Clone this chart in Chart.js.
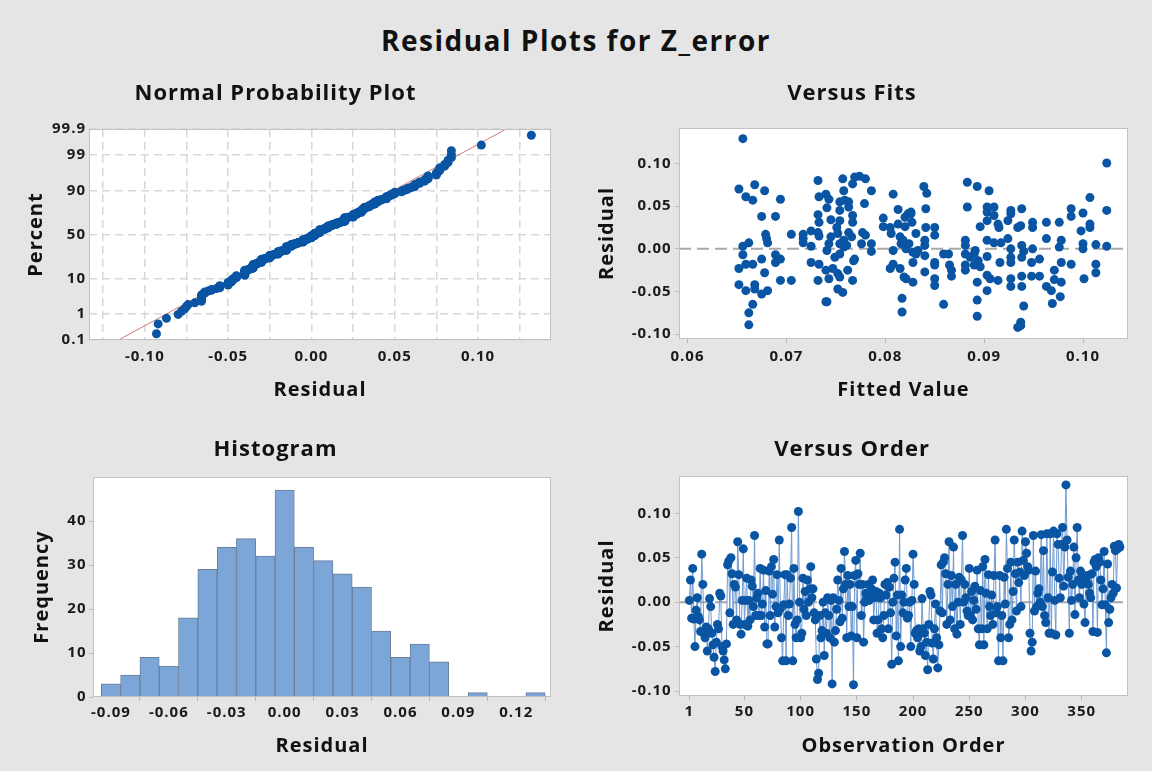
<!DOCTYPE html>
<html>
<head>
<meta charset="utf-8">
<script src="https://cdn.jsdelivr.net/npm/chart.js@4.4.1/dist/chart.umd.min.js"></script>
<style>
  html, body { margin: 0; padding: 0; }
  body { width: 1152px; height: 771px; background: #e5e5e5; position: relative; overflow: hidden; font-family: 'Open Sans', sans-serif; }
  #title { position: absolute; left: 0; top: 20px; width: 1152px; text-align: center; font-size: 28px; line-height: 40px; font-weight: 700; letter-spacing: 1.5px; color: #111; }
  .panel { position: absolute; width: 576px; height: 350px; }
</style>
</head>
<body>
<div id="title">Residual Plots for Z_error</div>
<div class="panel" style="left:0;top:60px"><canvas id="normal" width="576" height="350"></canvas></div>
<div class="panel" style="left:576px;top:60px"><canvas id="fits" width="576" height="350"></canvas></div>
<div class="panel" style="left:0;top:415px"><canvas id="hist" width="576" height="350"></canvas></div>
<div class="panel" style="left:576px;top:415px"><canvas id="order" width="576" height="350"></canvas></div>
<script>
// Residuals in observation order (1..384)
const residuals = [
  0.002, 0.025, -0.018, 0.038, -0.019, -0.050, -0.009, 0.005, -0.016, -0.020, -0.033, 0.054, 0.020, -0.035, -0.040, -0.028,
  -0.055, -0.030, 0.004, -0.005, -0.035, -0.048, -0.062, -0.078, -0.045, -0.025, -0.030, 0.010, 0.007, -0.050, -0.055, -0.065,
  -0.075, -0.047, 0.042, 0.046, -0.012, 0.050, 0.032, -0.025, 0.020, 0.017, -0.020, 0.068, 0.031, -0.025, -0.036, 0.002,
  0.060, -0.025, 0.002, 0.027, -0.027, 0.002, -0.020, 0.025, 0.018, -0.005, 0.075, -0.015, 0.005, 0.010, -0.015, 0.038,
  -0.015, -0.002, 0.036, -0.028, 0.013, -0.047, -0.047, 0.035, -0.015, 0.040, 0.009, 0.048, -0.028, -0.005, 0.031, -0.012,
  0.070, -0.007, -0.040, -0.066, -0.003, 0.031, -0.066, 0.031, -0.015, -0.002, 0.027, 0.084, -0.066, 0.038, -0.025, -0.040,
  -0.020, 0.102, 0.000, -0.040, -0.035, 0.027, -0.008, 0.012, -0.015, 0.025, 0.000, 0.015, 0.040, 0.005, 0.015, -0.012,
  -0.020, -0.064, -0.087, -0.080, -0.015, -0.040, -0.032, 0.000, -0.060, -0.012, -0.035, 0.005, -0.015, -0.040, 0.002, -0.092,
  0.005, -0.045, -0.032, -0.008, 0.025, 0.002, -0.022, 0.038, -0.018, 0.015, 0.057, 0.020, -0.040, 0.030, -0.005, 0.020,
  -0.038, -0.005, -0.093, 0.030, 0.047, -0.040, 0.032, 0.020, 0.055, -0.015, 0.020, -0.045, 0.000, 0.010, 0.005, 0.020,
  0.002, 0.010, 0.015, 0.025, -0.020, 0.005, 0.012, -0.035, -0.020, 0.010, 0.005, -0.030, -0.040, -0.015, 0.020, 0.008,
  0.022, -0.030, 0.017, -0.012, -0.070, 0.000, 0.027, 0.045, -0.038, 0.008, -0.066, 0.082, -0.050, 0.008, -0.012, 0.000,
  0.025, 0.038, -0.018, -0.015, 0.000, -0.050, 0.002, 0.054, 0.020, -0.035, -0.032, -0.040, -0.030, -0.055, -0.050, 0.004,
  -0.030, -0.035, -0.060, -0.045, -0.076, -0.025, 0.012, 0.008, -0.046, -0.064, -0.030, -0.002, -0.040, -0.074, -0.048, -0.010,
  0.042, -0.012, 0.045, 0.050, 0.032, -0.025, 0.020, 0.068, -0.020, 0.030, -0.005, 0.062, -0.030, 0.020, -0.036, 0.000,
  0.028, -0.025, 0.025, 0.075, 0.000, 0.020, 0.005, -0.010, -0.015, 0.038, -0.015, 0.012, -0.020, 0.002, 0.018, -0.008,
  0.036, -0.030, -0.048, 0.013, -0.030, 0.040, -0.048, 0.048, 0.010, -0.030, 0.031, -0.005, -0.015, 0.008, -0.025, 0.030,
  0.070, -0.012, -0.005, -0.066, 0.030, -0.040, -0.015, -0.066, 0.028, -0.002, 0.082, 0.038, -0.040, -0.025, 0.045, -0.020,
  0.012, 0.070, 0.032, -0.010, 0.045, 0.022, 0.034, -0.005, 0.080, 0.047, 0.030, 0.068, 0.055, 0.040, 0.036, -0.035,
  -0.055, -0.045, 0.075, -0.010, 0.035, -0.005, 0.010, 0.015, 0.000, 0.076, -0.005, 0.058, -0.015, -0.023, 0.077, 0.005,
  -0.035, 0.077, -0.035, 0.034, 0.080, 0.002, -0.037, 0.077, 0.065, 0.027, 0.005, 0.065, 0.084, 0.018, 0.062, 0.132,
  0.070, 0.028, -0.035, 0.035, 0.002, 0.020, 0.062, -0.014, 0.050, 0.084, 0.025, 0.005, 0.035, 0.020, 0.030, -0.002,
  -0.023, 0.025, 0.030, 0.020, 0.010, 0.005, 0.032, -0.033, 0.045, 0.048, 0.040, -0.034, 0.050, 0.045, 0.025, -0.003,
  0.015, 0.057, -0.003, -0.057, 0.043, -0.023, -0.008, 0.005, 0.020, 0.010, 0.063, 0.058, 0.016, 0.060, 0.065, 0.062
];

// Versus Fits: fitted value / residual pairs as seen in the scatter
const fitValues = [
  0.0656, 0.0652, 0.0659, 0.0666, 0.0668, 0.0662, 0.0656, 0.0656, 0.0652, 0.0659, 0.0666, 0.0652, 0.0659, 0.0668, 0.0668, 0.0666,
  0.0662, 0.0662, 0.0675, 0.0678, 0.0679, 0.0680, 0.0681, 0.0675, 0.0678, 0.0675, 0.0681, 0.0689, 0.0689, 0.0689, 0.0694, 0.0694,
  0.0694, 0.0705, 0.0705, 0.0717, 0.0717, 0.0717, 0.0725, 0.0725, 0.0725, 0.0732, 0.0733, 0.0732, 0.0733, 0.0732, 0.0733, 0.0732,
  0.0733, 0.0740, 0.0743, 0.0741, 0.0740, 0.0740, 0.0741, 0.0743, 0.0743, 0.0741, 0.0745, 0.0745, 0.0747, 0.0749, 0.0751, 0.0752,
  0.0752, 0.0754, 0.0754, 0.0754, 0.0754, 0.0754, 0.0752, 0.0757, 0.0754, 0.0757, 0.0758, 0.0759, 0.0758, 0.0758, 0.0761, 0.0762,
  0.0763, 0.0763, 0.0763, 0.0766, 0.0767, 0.0769, 0.0767, 0.0767, 0.0768, 0.0767, 0.0769, 0.0774, 0.0780, 0.0776, 0.0777, 0.0779,
  0.0780, 0.0786, 0.0786, 0.0786,
  0.0798, 0.0798, 0.0805, 0.0806, 0.0808, 0.0805, 0.0808, 0.0808, 0.0813, 0.0813, 0.0815, 0.0815, 0.0816, 0.0817, 0.0817, 0.0818,
  0.0819, 0.0820, 0.0820, 0.0821, 0.0821, 0.0823, 0.0824, 0.0826, 0.0826, 0.0827, 0.0828, 0.0828, 0.0828, 0.0831, 0.0831, 0.0833,
  0.0839, 0.0842, 0.0841, 0.0841, 0.0840, 0.0840, 0.0840, 0.0840, 0.0850, 0.0850, 0.0850, 0.0850, 0.0850, 0.0850, 0.0859, 0.0859,
  0.0864, 0.0865, 0.0867, 0.0867,
  0.0883, 0.0883, 0.0881, 0.0881, 0.0881, 0.0881, 0.0881, 0.0886, 0.0890, 0.0890, 0.0891, 0.0893, 0.0893, 0.0893, 0.0893, 0.0894,
  0.0896, 0.0896, 0.0903, 0.0903, 0.0903, 0.0903, 0.0903, 0.0903, 0.0903, 0.0905, 0.0906, 0.0910, 0.0910, 0.0910, 0.0914, 0.0915,
  0.0917, 0.0916, 0.0914, 0.0924, 0.0924, 0.0927, 0.0927, 0.0927, 0.0927, 0.0927, 0.0927, 0.0927, 0.0934, 0.0937, 0.0937, 0.0934,
  0.0937, 0.0938, 0.0938, 0.0938, 0.0938, 0.0938, 0.0940, 0.0940, 0.0948, 0.0948, 0.0949, 0.0949, 0.0949, 0.0956, 0.0956,
  0.0963, 0.0963, 0.0963, 0.0968, 0.0969, 0.0971, 0.0971, 0.0976, 0.0976, 0.0977, 0.0978, 0.0978, 0.0978, 0.0988, 0.0988, 0.0988,
  0.0998, 0.1000, 0.1000, 0.1000, 0.1001, 0.1007, 0.1007, 0.1007, 0.1013, 0.1013, 0.1013, 0.1024, 0.1024, 0.1024
];
const fitResiduals = [
  0.129, 0.070, 0.061, 0.057, 0.075, 0.007, 0.003, -0.007, -0.023, -0.018, -0.018, -0.042, -0.049, -0.042, -0.047, -0.065,
  -0.075, -0.089, 0.038, 0.068, 0.017, 0.012, 0.007, -0.012, -0.028, -0.053, -0.049, 0.038, -0.007, -0.016, 0.058, -0.012,
  -0.037, -0.037, 0.017, 0.017, 0.012, 0.007, 0.021, 0.003, -0.016, 0.080, 0.061, 0.040, 0.031, 0.019, 0.015, -0.037,
  -0.018, 0.064, 0.058, 0.048, -0.025, -0.062, -0.062, -0.035, 0.006, -0.002, 0.034, 0.014, -0.023, -0.010, 0.025, 0.018,
  -0.029, 0.033, 0.045, 0.055, 0.006, -0.006, -0.047, -0.051, -0.033, 0.082, 0.068, 0.057, 0.010, 0.002, 0.004, -0.025,
  0.055, 0.049, 0.019, 0.014, 0.076, 0.084, 0.039, 0.031, -0.014, -0.037, -0.012, 0.085, 0.082, 0.006, 0.019, 0.053,
  0.016, 0.068, 0.006, -0.003,
  0.036, 0.026, 0.025, 0.018, 0.064, -0.023, -0.018, -0.002, 0.046, 0.029, 0.014, -0.023, 0.006, -0.058, -0.074, 0.010,
  -0.033, 0.037, 0.026, 0.000, -0.035, 0.041, 0.006, 0.041, 0.043, 0.031, -0.016, -0.039, -0.004, 0.018, -0.006, -0.002,
  0.073, 0.065, 0.047, 0.025, 0.010, 0.004, -0.008, -0.027, 0.025, 0.016, -0.016, -0.019, -0.035, -0.043, -0.006, -0.065,
  -0.006, -0.019, -0.025, -0.032,
  0.078, 0.049, 0.010, 0.004, -0.006, -0.019, -0.025, -0.010, -0.006, -0.019, -0.002, 0.073, -0.039, -0.060, -0.079, -0.014,
  0.026, -0.021, 0.049, 0.043, 0.033, 0.010, -0.009, -0.031, -0.049, 0.068, -0.035, 0.049, 0.039, 0.007, 0.029, 0.025,
  0.007, -0.016, -0.037, 0.033, 0.012, 0.041, 0.045, 0.000, -0.010, -0.016, -0.035, -0.044, -0.092, -0.090, -0.086, 0.025,
  0.027, 0.047, 0.004, -0.010, -0.032, -0.044, -0.067, -0.003, -0.016, -0.032, 0.031, 0.025, 0.000, -0.012, -0.032,
  0.031, 0.012, -0.044, -0.049, -0.064, -0.025, -0.036, 0.031, 0.002, -0.056, 0.010, -0.016, -0.039, 0.047, 0.038, -0.018,
  0.021, 0.042, 0.006, 0.000, -0.035, 0.060, 0.029, 0.025, 0.005, -0.018, -0.028, 0.1005, 0.045, 0.003
];

// Histogram bins (centres) and frequencies
const histBins = [-0.09, -0.08, -0.07, -0.06, -0.05, -0.04, -0.03, -0.02, -0.01, 0.00, 0.01, 0.02,
                  0.03, 0.04, 0.05, 0.06, 0.07, 0.08, 0.09, 0.10, 0.11, 0.12, 0.13];
const histCounts = [3, 5, 9, 7, 18, 29, 34, 36, 32, 47, 34, 31, 28, 25, 15, 9, 12, 8, 0, 1, 0, 0, 1];

// Fitted normal line on the probability plot (percent -> residual)
const fitLinePct = [0.1, 99.9];
const fitLineResid = [-0.1158, 0.1169];

// Tick labels
const pctTicks = [0.1, 1, 10, 50, 90, 99, 99.9];
const normXGrid = [-0.125, -0.1, -0.075, -0.05, -0.025, 0, 0.025, 0.05, 0.075, 0.1, 0.125];
const histXTicks = [-0.09, -0.06, -0.03, 0, 0.03, 0.06, 0.09, 0.12];
const histYTicks = [0, 10, 20, 30, 40];
const fitsXTicks = [0.06, 0.07, 0.08, 0.09, 0.10];
const residTicks = [-0.10, -0.05, 0, 0.05, 0.10];
const orderTicks = [1, 50, 100, 150, 200, 250, 300, 350];

const DOT = '#0a55a3';
const INK = '#1a1a1a';
Chart.defaults.font.family = "'Open Sans', sans-serif";
Chart.defaults.color = INK;
Chart.defaults.animation = false;

// inverse normal cdf (Acklam)
function probit(p) {
  const a = [-3.969683028665376e+01, 2.209460984245205e+02, -2.759285104469687e+02, 1.383577518672690e+02, -3.066479806614716e+01, 2.506628277459239e+00];
  const b = [-5.447609879822406e+01, 1.615858368580409e+02, -1.556989798598866e+02, 6.680131188771972e+01, -1.328068155288572e+01];
  const c = [-7.784894002430293e-03, -3.223964580411365e-01, -2.400758277161838e+00, -2.549732539343734e+00, 4.374664141464968e+00, 2.938163982698783e+00];
  const d = [7.784695709041462e-03, 3.224671290700398e-01, 2.445134137142996e+00, 3.754408661907416e+00];
  const lo = 0.02425;
  if (p < lo || p > 1 - lo) {
    const q = Math.sqrt(-2 * Math.log(p < lo ? p : 1 - p));
    const v = (((((c[0]*q+c[1])*q+c[2])*q+c[3])*q+c[4])*q+c[5]) / ((((d[0]*q+d[1])*q+d[2])*q+d[3])*q+1);
    return p < lo ? v : -v;
  }
  const q = p - 0.5, r = q * q;
  return (((((a[0]*r+a[1])*r+a[2])*r+a[3])*r+a[4])*r+a[5])*q / (((((b[0]*r+b[1])*r+b[2])*r+b[3])*r+b[4])*r+1);
}

// white plot area + grey frame
const plotFrame = {
  id: 'plotFrame',
  beforeDraw(chart) {
    const { ctx, chartArea: a } = chart;
    ctx.letterSpacing = '1px';
    ctx.save();
    ctx.fillStyle = '#fff';
    ctx.fillRect(a.left, a.top, a.width, a.height);
    ctx.restore();
  },
  afterDraw(chart) {
    const { ctx, chartArea: a } = chart;
    ctx.save();
    ctx.strokeStyle = '#c2c2c2';
    ctx.lineWidth = 1;
    ctx.strokeRect(Math.round(a.left) + 0.5, Math.round(a.top) + 0.5, Math.round(a.width) - 1, Math.round(a.height) - 1);
    ctx.restore();
  }
};

const tickFont = { size: 15, weight: 'bold' };
const labelFont = { size: 20, weight: 'bold' };

// box geometry (canvas px): plot left, top, bottom
function panelOptions(g) {
  return {
    responsive: false,
    layout: { padding: { left: 0, right: 576 - g.right, top: 0, bottom: 0 } },
    plugins: {
      legend: { display: false },
      tooltip: { enabled: false },
      title: {
        display: true, text: g.title, color: '#111',
        font: { size: 22, weight: 'bold' },
        padding: { top: g.titleY - 13.2, bottom: g.top - (g.titleY - 13.2) - 26.4 }
      }
    },
    scales: {
      x: Object.assign({
        type: 'linear', min: g.xMin, max: g.xMax, offset: false,
        afterFit: s => { s.height = 350 - g.bottom; },
        afterBuildTicks: s => { s.ticks = g.xTicks.map(v => ({ value: v })); },
        title: { display: true, text: g.xTitle, font: labelFont, color: '#111', padding: { top: 0, bottom: 350 - g.xTitleY - 12 } },
        ticks: { font: tickFont, color: INK, maxRotation: 0, autoSkip: false, padding: g.xPad, callback: g.xLabel },
        border: { display: false },
        grid: { drawOnChartArea: false, tickLength: 4, color: '#b8b8b8' }
      }, g.x || {}),
      y: Object.assign({
        type: 'linear', min: g.yMin, max: g.yMax,
        afterFit: s => { s.width = g.left; },
        afterBuildTicks: s => { s.ticks = g.yTicks.map(v => ({ value: v })); },
        title: { display: true, text: g.yTitle, font: labelFont, color: '#111', padding: { top: g.yTitleX - 12, bottom: 0 } },
        ticks: { font: tickFont, color: INK, autoSkip: false, padding: g.yPad, callback: g.yLabel },
        border: { display: false },
        grid: { drawOnChartArea: false, tickLength: 4, color: '#b8b8b8' }
      }, g.y || {})
    }
  };
}

const fmt2 = v => v.toFixed(2);
const zeroLine = (x0, x1) => ({
  type: 'line', data: [{ x: x0, y: 0 }, { x: x1, y: 0 }],
  borderColor: '#a8a8a8', borderWidth: 2, borderDash: [12, 6], pointRadius: 0, order: 3
});

// Normal probability plot
const sorted = [...residuals].sort((a, b) => a - b);
const n = sorted.length;
const probPoints = sorted.map((r, i) => ({ x: r, y: probit((i + 1 - 0.3) / (n + 0.4)) }));
const dashGrid = { color: '#d8d8d8', lineWidth: 1.5, drawTicks: false };

new Chart(document.getElementById('normal'), {
  type: 'scatter',
  data: {
    datasets: [
      { data: probPoints, backgroundColor: DOT, borderWidth: 0, pointRadius: 4.5, order: 1 },
      { type: 'line', data: fitLinePct.map((p, i) => ({ x: fitLineResid[i], y: probit(p / 100) })),
        borderColor: '#d27a7a', borderWidth: 1, pointRadius: 0, order: 2 }
    ]
  },
  options: panelOptions({
    title: 'Normal Probability Plot', titleY: 34, top: 69, bottom: 280, left: 89, right: 551,
    xMin: -0.1335, xMax: 0.1438, xTicks: normXGrid, xTitle: 'Residual', xTitleY: 330, xPad: 7.7,
    xLabel: v => (Math.round(v * 1000) % 50 === 0 ? fmt2(v) : ''),
    yMin: probit(0.001), yMax: probit(0.999), yTicks: pctTicks.map(p => probit(p / 100)),
    yTitle: 'Percent', yTitleX: 36.6, yPad: 3,
    yLabel: (v, i) => String(pctTicks[i]),
    x: { grid: dashGrid, border: { display: false, dash: [8, 5] } },
    y: { grid: dashGrid, border: { display: false, dash: [8, 5] } }
  }),
  plugins: [plotFrame]
});

// Versus fits
const fitsRange = [0.05914, 0.10455];
new Chart(document.getElementById('fits'), {
  type: 'scatter',
  data: {
    datasets: [
      { data: fitValues.map((f, i) => ({ x: f, y: fitResiduals[i] })), backgroundColor: DOT, borderWidth: 0, pointRadius: 4.5, order: 1 },
      zeroLine(fitsRange[0], fitsRange[1])
    ]
  },
  options: panelOptions({
    title: 'Versus Fits', titleY: 34, top: 68, bottom: 279, left: 103, right: 552,
    xMin: fitsRange[0], xMax: fitsRange[1], xTicks: fitsXTicks, xTitle: 'Fitted Value', xTitleY: 330, xPad: 4.4,
    xLabel: fmt2,
    yMin: -0.1056, yMax: 0.1415, yTicks: residTicks, yTitle: 'Residual', yTitleX: 31.4, yPad: 3.4,
    yLabel: fmt2
  }),
  plugins: [plotFrame]
});

// Histogram
new Chart(document.getElementById('hist'), {
  type: 'bar',
  data: {
    datasets: [{
      data: histBins.map((b, i) => ({ x: b, y: histCounts[i] })),
      backgroundColor: '#7ca5d8', borderColor: '#6a7f9c', borderWidth: 1,
      barPercentage: 1, categoryPercentage: 1
    }]
  },
  options: panelOptions({
    title: 'Histogram', titleY: 35, top: 62, bottom: 282, left: 93, right: 551,
    xMin: -0.0993, xMax: 0.138, xTicks: histXTicks, xTitle: 'Residual', xTitleY: 331, xPad: 2.7,
    xLabel: fmt2,
    yMin: 0, yMax: 50, yTicks: histYTicks, yTitle: 'Frequency', yTitleX: 42.7, yPad: 2.5,
    yLabel: v => String(v)
  }),
  plugins: [plotFrame]
});

// Versus order
const orderRange = [-8.2, 391.2];
new Chart(document.getElementById('order'), {
  type: 'scatter',
  data: {
    datasets: [
      { data: residuals.map((r, i) => ({ x: i + 1, y: r })), showLine: true,
        borderColor: '#6f9bd2', borderWidth: 1, backgroundColor: DOT, pointBorderWidth: 0, pointRadius: 4.5, order: 1 },
      zeroLine(orderRange[0], orderRange[1])
    ]
  },
  options: panelOptions({
    title: 'Versus Order', titleY: 35, top: 61, bottom: 281, left: 103, right: 552,
    xMin: orderRange[0], xMax: orderRange[1], xTicks: orderTicks, xTitle: 'Observation Order', xTitleY: 331, xPad: 2.7,
    xLabel: v => String(v),
    yMin: -0.1056, yMax: 0.142, yTicks: residTicks, yTitle: 'Residual', yTitleX: 31.4, yPad: 3.4,
    yLabel: fmt2
  }),
  plugins: [plotFrame]
});
</script>
</body>
</html>
